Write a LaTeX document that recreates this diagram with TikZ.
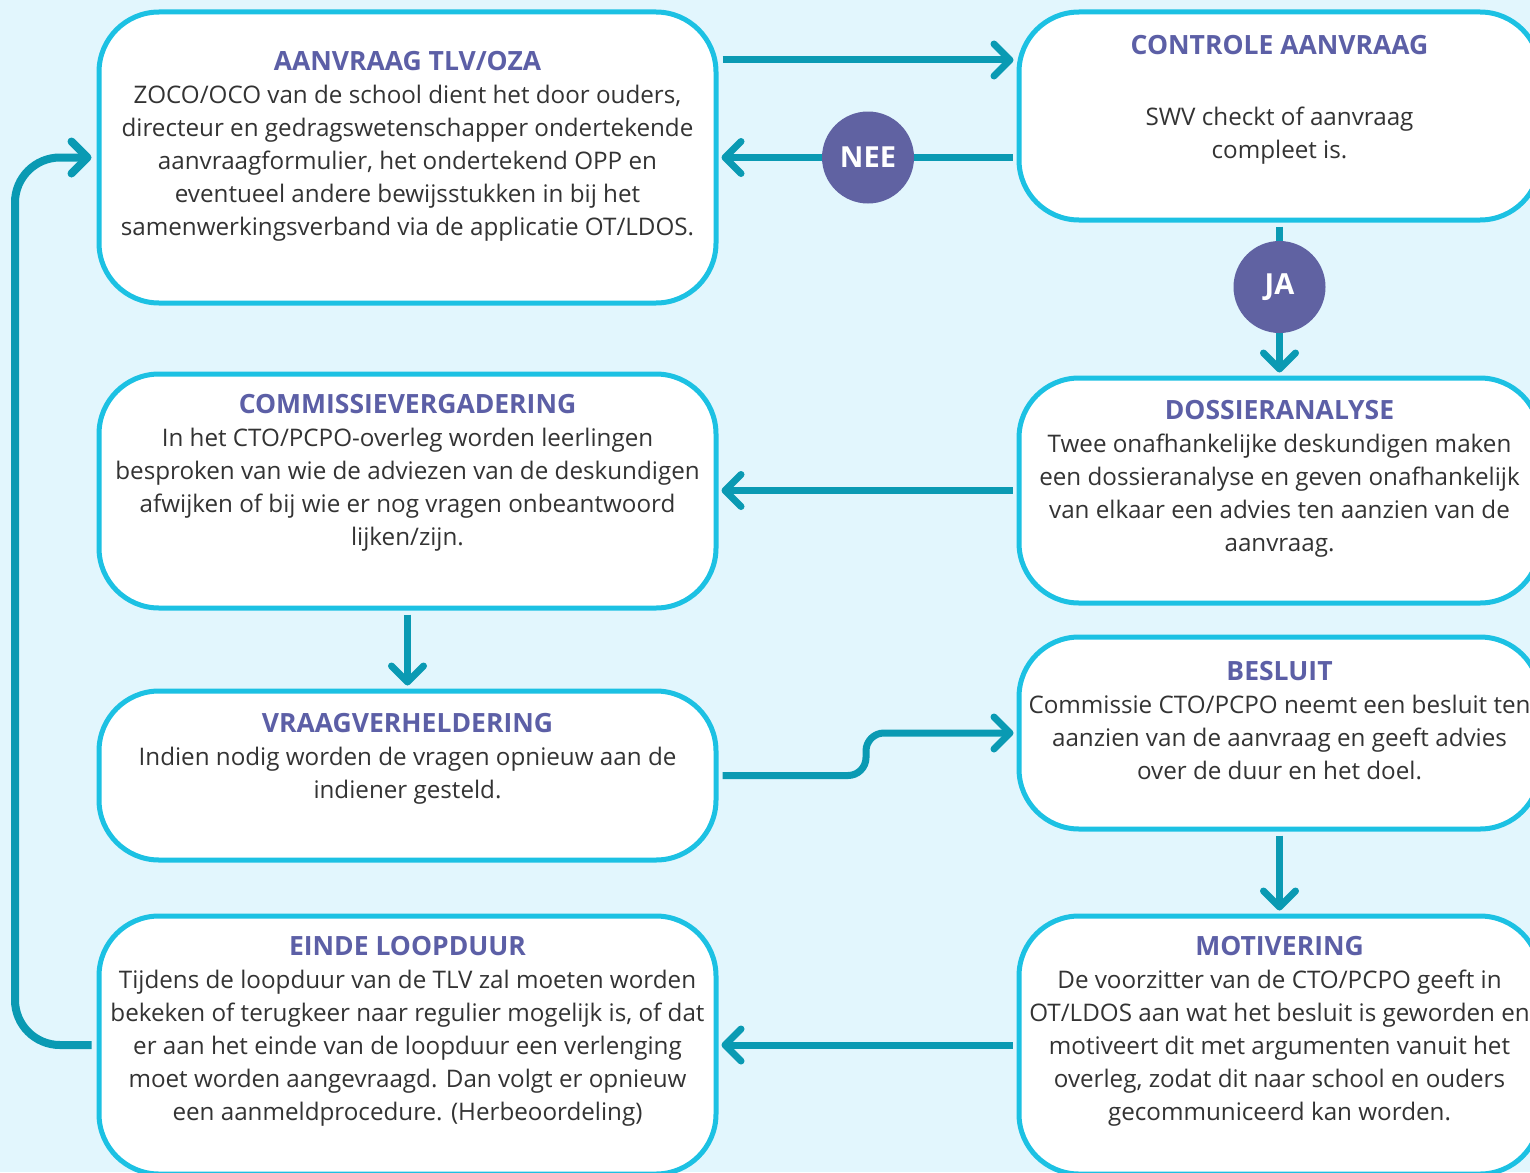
\documentclass[tikz,border=0pt]{standalone}
\usepackage{fontspec}
\setmainfont{Open Sans}
\usetikzlibrary{arrows.meta}

\definecolor{bgblue}{HTML}{E2F6FD}
\definecolor{boxline}{HTML}{1CC1E3}
\definecolor{arrowteal}{HTML}{0A9AB3}
\definecolor{circlepurple}{HTML}{6062A2}
\definecolor{titlepurple}{HTML}{5C5FA6}
\definecolor{bodygray}{HTML}{333333}

\tikzset{
  stepbox/.style={draw=boxline, line width=5pt, fill=white, rounded corners=60pt, inner sep=0pt},
  boxtext/.style={align=center, text=bodygray, font=\fontsize{24.2}{33}\selectfont},
  flow/.style={draw=arrowteal, line width=7pt, shorten <=4pt, shorten >=3pt,
    -{Straight Barb[length=16pt,width=32pt,round]}},
  answer/.style={circle, fill=circlepurple, minimum size=92pt, inner sep=0pt,
    text=white, font=\fontsize{29}{30}\selectfont\bfseries},
}
\newcommand{\boxtitle}[1]{{\fontsize{26.5}{33}\selectfont\color{titlepurple}\bfseries #1}}

\begin{document}
\begin{tikzpicture}[x=1pt, y=-1pt]
\clip (0,0) rectangle (1530,1172);
\fill[bgblue] (0,0) rectangle (1530,1172);
% boxes
\node[stepbox, minimum width=617pt, minimum height=291pt] (aanvraag) at (407.5,157.5) {};
\node[stepbox, minimum width=521pt, minimum height=208pt] (controle) at (1279.5,116) {};
\node[stepbox, minimum width=617pt, minimum height=234pt] (commissie) at (407.5,491) {};
\node[stepbox, minimum width=521pt, minimum height=225pt] (dossier) at (1279.5,490.5) {};
\node[stepbox, minimum width=617pt, minimum height=169pt] (vraag) at (407.5,775.5) {};
\node[stepbox, minimum width=521pt, minimum height=192pt] (besluit) at (1279.5,733) {};
\node[stepbox, minimum width=617pt, minimum height=258pt] (einde) at (407.5,1045) {};
\node[stepbox, minimum width=521pt, minimum height=258pt] (motivering) at (1279.5,1045) {};
% texts
\node[boxtext] (aanvraagtxt) at (407.5,146) {\boxtitle{AANVRAAG TLV/OZA}\\
  ZOCO/OCO van de school dient het door ouders,\\
  directeur en gedragswetenschapper ondertekende\\
  aanvraagformulier, het ondertekend OPP en\\
  eventueel andere bewijsstukken in bij het\\
  samenwerkingsverband via de applicatie OT/LDOS.};
\node[boxtext] (controletxt) at (1279.5,100) {\boxtitle{CONTROLE AANVRAAG}\\[38pt]
  SWV checkt of aanvraag\\
  compleet is.};
\node[boxtext] (commissietxt) at (407.5,473) {\boxtitle{COMMISSIEVERGADERING}\\
  In het CTO/PCPO-overleg worden leerlingen\\
  besproken van wie de adviezen van de deskundigen\\
  afwijken of bij wie er nog vragen onbeantwoord\\
  lijken/zijn.};
\node[boxtext] (dossiertxt) at (1279.5,478.5) {\boxtitle{DOSSIERANALYSE}\\
  Twee onafhankelijke deskundigen maken\\
  een dossieranalyse en geven onafhankelijk\\
  van elkaar een advies ten aanzien van de\\
  aanvraag.};
\node[boxtext] (vraagtxt) at (407.5,759) {\boxtitle{VRAAGVERHELDERING}\\
  Indien nodig worden de vragen opnieuw aan de\\
  indiener gesteld.};
\node[boxtext] (besluittxt) at (1279.5,721) {\boxtitle{BESLUIT}\\
  Commissie CTO/PCPO neemt een besluit ten\\
  aanzien van de aanvraag en geeft advies\\
  over de duur en het doel.};
\node[boxtext] (eindetxt) at (407.5,1031) {\boxtitle{EINDE LOOPDUUR}\\
  Tijdens de loopduur van de TLV zal moeten worden\\
  bekeken of terugkeer naar regulier mogelijk is, of dat\\
  er aan het einde van de loopduur een verlenging\\
  moet worden aangevraagd. Dan volgt er opnieuw\\
  een aanmeldprocedure. (Herbeoordeling)};
\node[boxtext] (motiveringtxt) at (1279.5,1031) {\boxtitle{MOTIVERING}\\
  De voorzitter van de CTO/PCPO geeft in\\
  OT/LDOS aan wat het besluit is geworden en\\
  motiveert dit met argumenten vanuit het\\
  overleg, zodat dit naar school en ouders\\
  gecommuniceerd kan worden.};
% connectors
\coordinate (toprow) at (0,60);
\coordinate (rail) at (15,0);
\draw[flow] (aanvraag.east |- toprow) -- (controle.west |- toprow);
\draw[flow] (controle.west |- aanvraag.east) -- (aanvraag.east);
\draw[flow] (controle.south) -- (dossier.north);
\draw[flow] (dossier.west) -- (commissie.east |- dossier.west);
\draw[flow] (commissie.south) -- (vraag.north);
\draw[flow, rounded corners=18pt] (vraag.east) -- (866,775.5) -- (866,733) -- (besluit.west);
\draw[flow] (besluit.south) -- (motivering.north);
\draw[flow] (motivering.west) -- (einde.east);
\draw[flow, line width=8pt, rounded corners=45pt, shorten <=5pt, shorten >=5pt]
  (einde.west) -- (einde.west -| rail) -- (aanvraag.west -| rail) -- (aanvraag.west);
% answers
\node[answer] (nee) at (868,157.5) {NEE};
\node[answer] (ja) at (1279.5,287) {JA};
\end{tikzpicture}
\end{document}
